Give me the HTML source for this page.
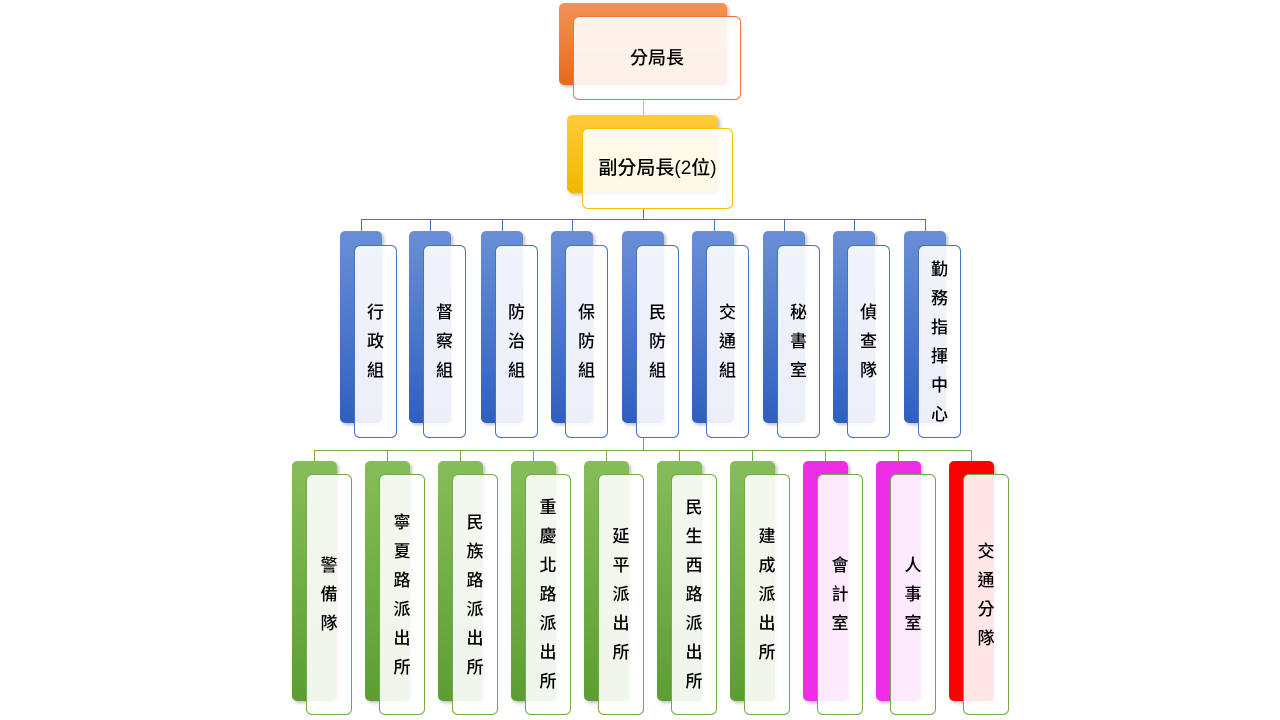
<!DOCTYPE html>
<html><head><meta charset="utf-8"><style>
body{margin:0;width:1280px;height:720px;background:#fff;position:relative;overflow:hidden;font-family:"Liberation Sans","Noto Sans CJK TC",sans-serif;}
.b{position:absolute;border-radius:5px;box-shadow:2px 2px 3px rgba(0,0,0,.25);}
.f{position:absolute;border-radius:6px;background:rgba(255,255,255,.9);border:1px solid;box-sizing:border-box;display:flex;flex-direction:column;align-items:center;justify-content:center;font-size:17px;color:#000;line-height:29px;font-weight:500;}
.l{position:absolute;}
.or{background:linear-gradient(#f39256,#e86a1c);} .ye{background:linear-gradient(#ffcb3a,#f0b800);}
.bl{background:linear-gradient(#6a8fd6,#2f5fbf);} .gr{background:linear-gradient(#86bd5a,#5c9e33);}
.mg{background:#ee2ee6;} .rd{background:#ff0000;}
.m .f{border-color:#4472c4;} .m .l{background:#4472c4;}
.g .f{border-color:#70ad47;} .g .l{background:#70ad47;}
</style></head><body>
<div class="b or" style="left:559px;top:3px;width:168px;height:82px"></div>
<div class="f" style="left:573px;top:16px;width:168px;height:84px;border-color:#e8773a;font-size:18px">分局長</div>
<div class="l" style="left:643px;top:100px;width:1px;height:28px;background:#f5c000"></div>
<div class="b ye" style="left:567px;top:115px;width:151px;height:78px"></div>
<div class="f" style="left:582px;top:128px;width:151px;height:81px;border-color:#f5c000;font-size:19px">副分局長(2位)</div>
<div class="m">
<div class="l" style="left:643px;top:209px;width:1px;height:10px"></div>
<div class="l" style="left:361px;top:219px;width:565px;height:1px"></div>
<div class="l" style="left:361px;top:219px;width:1px;height:12px"></div>
<div class="l" style="left:430px;top:219px;width:1px;height:12px"></div>
<div class="l" style="left:502px;top:219px;width:1px;height:12px"></div>
<div class="l" style="left:572px;top:219px;width:1px;height:12px"></div>
<div class="l" style="left:714px;top:219px;width:1px;height:12px"></div>
<div class="l" style="left:784px;top:219px;width:1px;height:12px"></div>
<div class="l" style="left:854px;top:219px;width:1px;height:12px"></div>
<div class="l" style="left:925px;top:219px;width:1px;height:12px"></div>
<div class="b bl" style="left:340px;top:231px;width:42px;height:192px"></div><div class="f" style="left:354px;top:245px;width:43px;height:193px"><span>行</span><span>政</span><span>組</span></div>
<div class="b bl" style="left:409px;top:231px;width:42px;height:192px"></div><div class="f" style="left:423px;top:245px;width:43px;height:193px"><span>督</span><span>察</span><span>組</span></div>
<div class="b bl" style="left:481px;top:231px;width:42px;height:192px"></div><div class="f" style="left:495px;top:245px;width:43px;height:193px"><span>防</span><span>治</span><span>組</span></div>
<div class="b bl" style="left:551px;top:231px;width:42px;height:192px"></div><div class="f" style="left:565px;top:245px;width:43px;height:193px"><span>保</span><span>防</span><span>組</span></div>
<div class="b bl" style="left:622px;top:231px;width:42px;height:192px"></div><div class="f" style="left:636px;top:245px;width:43px;height:193px"><span>民</span><span>防</span><span>組</span></div>
<div class="b bl" style="left:692px;top:231px;width:42px;height:192px"></div><div class="f" style="left:706px;top:245px;width:43px;height:193px"><span>交</span><span>通</span><span>組</span></div>
<div class="b bl" style="left:763px;top:231px;width:42px;height:192px"></div><div class="f" style="left:777px;top:245px;width:43px;height:193px"><span>秘</span><span>書</span><span>室</span></div>
<div class="b bl" style="left:833px;top:231px;width:42px;height:192px"></div><div class="f" style="left:847px;top:245px;width:43px;height:193px"><span>偵</span><span>查</span><span>隊</span></div>
<div class="b bl" style="left:904px;top:231px;width:42px;height:192px"></div><div class="f" style="left:918px;top:245px;width:43px;height:193px"><span>勤</span><span>務</span><span>指</span><span>揮</span><span>中</span><span>心</span></div>
</div>
<div class="g">
<div class="l" style="left:643px;top:438px;width:1px;height:12px"></div>
<div class="l" style="left:314px;top:450px;width:658px;height:1px"></div>
<div class="l" style="left:314px;top:450px;width:1px;height:11px"></div>
<div class="l" style="left:387px;top:450px;width:1px;height:11px"></div>
<div class="l" style="left:460px;top:450px;width:1px;height:11px"></div>
<div class="l" style="left:533px;top:450px;width:1px;height:11px"></div>
<div class="l" style="left:606px;top:450px;width:1px;height:11px"></div>
<div class="l" style="left:679px;top:450px;width:1px;height:11px"></div>
<div class="l" style="left:752px;top:450px;width:1px;height:11px"></div>
<div class="l" style="left:825px;top:450px;width:1px;height:11px"></div>
<div class="l" style="left:898px;top:450px;width:1px;height:11px"></div>
<div class="l" style="left:971px;top:450px;width:1px;height:11px"></div>
<div class="b gr" style="left:292px;top:461px;width:45px;height:240px"></div><div class="f" style="left:306px;top:474px;width:46px;height:241px"><span>警</span><span>備</span><span>隊</span></div>
<div class="b gr" style="left:365px;top:461px;width:45px;height:240px"></div><div class="f" style="left:379px;top:474px;width:46px;height:241px"><span>寧</span><span>夏</span><span>路</span><span>派</span><span>出</span><span>所</span></div>
<div class="b gr" style="left:438px;top:461px;width:45px;height:240px"></div><div class="f" style="left:452px;top:474px;width:46px;height:241px"><span>民</span><span>族</span><span>路</span><span>派</span><span>出</span><span>所</span></div>
<div class="b gr" style="left:511px;top:461px;width:45px;height:240px"></div><div class="f" style="left:525px;top:474px;width:46px;height:241px"><span>重</span><span>慶</span><span>北</span><span>路</span><span>派</span><span>出</span><span>所</span></div>
<div class="b gr" style="left:584px;top:461px;width:45px;height:240px"></div><div class="f" style="left:598px;top:474px;width:46px;height:241px"><span>延</span><span>平</span><span>派</span><span>出</span><span>所</span></div>
<div class="b gr" style="left:657px;top:461px;width:45px;height:240px"></div><div class="f" style="left:671px;top:474px;width:46px;height:241px"><span>民</span><span>生</span><span>西</span><span>路</span><span>派</span><span>出</span><span>所</span></div>
<div class="b gr" style="left:730px;top:461px;width:45px;height:240px"></div><div class="f" style="left:744px;top:474px;width:46px;height:241px"><span>建</span><span>成</span><span>派</span><span>出</span><span>所</span></div>
<div class="b mg" style="left:803px;top:461px;width:45px;height:240px"></div><div class="f" style="left:817px;top:474px;width:46px;height:241px"><span>會</span><span>計</span><span>室</span></div>
<div class="b mg" style="left:876px;top:461px;width:45px;height:240px"></div><div class="f" style="left:890px;top:474px;width:46px;height:241px"><span>人</span><span>事</span><span>室</span></div>
<div class="b rd" style="left:949px;top:461px;width:45px;height:240px"></div><div class="f" style="left:963px;top:474px;width:46px;height:241px"><span>交</span><span>通</span><span>分</span><span>隊</span></div>
</div>
</body></html>
